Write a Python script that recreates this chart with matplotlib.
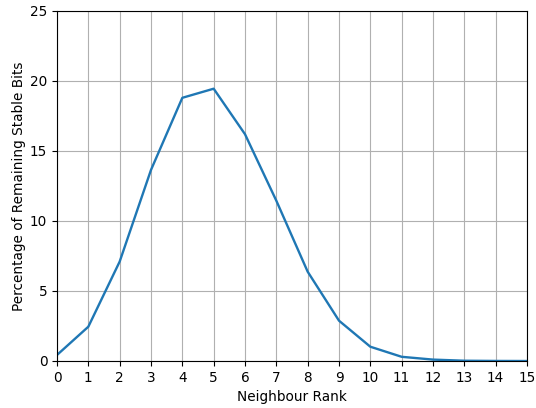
import matplotlib
matplotlib.use("Agg")
import matplotlib.pyplot as plt

# Neighbour rank vs share of stable bits
ranks = list(range(16))
stable_pct = [0.43, 2.45, 7.1, 13.65, 18.8, 19.45, 16.2, 11.45, 6.38, 2.88,
              1.02, 0.3, 0.1, 0.02, 0.005, 0.0]

plt.rcParams["font.size"] = 9.8

fig, ax = plt.subplots(figsize=(5.36, 4.08), dpi=100)
ax.plot(ranks, stable_pct, color="#1f77b4", lw=1.7)
ax.set_xlim(0, 15)
ax.set_ylim(0, 25)
ax.set_xticks(ranks)
ax.grid(True, color="#b0b0b0", lw=0.8)
ax.set_xlabel("Neighbour Rank")
ax.set_ylabel("Percentage of Remaining Stable Bits", labelpad=3)

fig.subplots_adjust(left=57/536, right=527/536, top=1 - 11/408, bottom=1 - 361/408)
fig.savefig("out.png", dpi=100)
